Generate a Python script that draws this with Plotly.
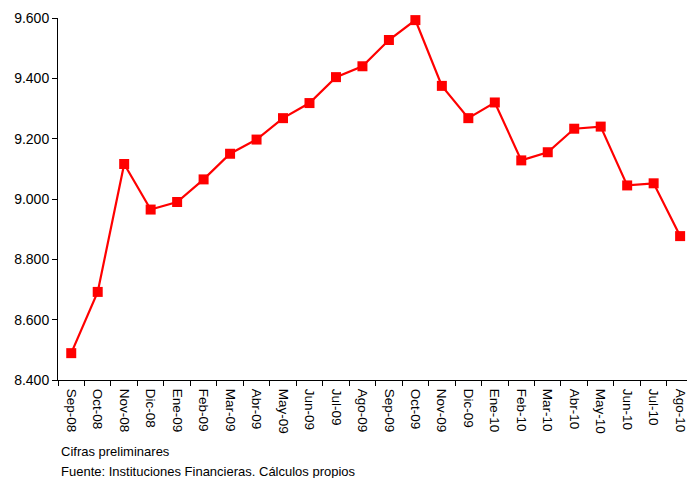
import plotly.graph_objects as go

months = ["Sep-08", "Oct-08", "Nov-08", "Dic-08", "Ene-09", "Feb-09", "Mar-09", "Abr-09",
          "May-09", "Jun-09", "Jul-09", "Ago-09", "Sep-09", "Oct-09", "Nov-09", "Dic-09",
          "Ene-10", "Feb-10", "Mar-10", "Abr-10", "May-10", "Jun-10", "Jul-10", "Ago-10"]
values = [8489, 8692, 9116, 8965, 8990, 9065, 9150, 9197,
          9268, 9318, 9404, 9440, 9527, 9593, 9375, 9268,
          9320, 9128, 9155, 9233, 9240, 9045, 9052, 8877]
y_ticks = [8400, 8600, 8800, 9000, 9200, 9400, 9600]

FONT = "Liberation Sans, Arial, sans-serif"
XRANGE = [-0.5, 23.26]

fig = go.Figure()
fig.add_trace(go.Scatter(
    x=list(range(len(months))), y=values, mode="lines+markers",
    line=dict(color="#FF0000", width=2.2),
    marker=dict(symbol="square", size=10, color="#FF0000"),
    cliponaxis=False, showlegend=False,
))
# invisible helper trace carrying the category-boundary tick marks
fig.add_trace(go.Scatter(x=[0], y=[8400], mode="markers", marker=dict(opacity=0),
                         showlegend=False, hoverinfo="skip", xaxis="x2"))

fig.update_layout(
    width=687, height=478,
    margin=dict(l=58, r=0, t=18, b=98),
    paper_bgcolor="white", plot_bgcolor="white",
    separators=",.",
    font=dict(family=FONT, color="black"),
    xaxis=dict(
        range=XRANGE, automargin=False,
        tickmode="array",
        tickvals=list(range(len(months))),
        ticktext=months,
        tickangle=90,
        tickfont=dict(size=13.5, family=FONT),
        ticklabeloverflow="allow",
        showgrid=False, zeroline=False,
        showline=True, linecolor="black", linewidth=1,
        ticks="outside", ticklen=5, tickcolor="rgba(0,0,0,0)",
    ),
    xaxis2=dict(
        overlaying="x", side="bottom", automargin=False,
        tickmode="array", tickvals=[i + 0.5 for i in range(-1, len(months))],
        ticks="outside", ticklen=5, tickcolor="black",
        showticklabels=False, showgrid=False, zeroline=False, showline=False,
        range=XRANGE,
    ),
    yaxis=dict(
        range=[8400, 9600], automargin=False,
        tickvals=y_ticks,
        tickformat=",.0f",
        tickfont=dict(size=14, family=FONT),
        showgrid=False, zeroline=False,
        showline=True, linecolor="black", linewidth=1,
        ticks="outside", ticklen=5, tickcolor="black",
    ),
)

fig.add_annotation(text="Cifras preliminares", xref="paper", yref="paper",
                   x=0, y=0, xshift=1, yshift=-71, xanchor="left", yanchor="middle",
                   showarrow=False, font=dict(size=13, family=FONT, color="black"))
fig.add_annotation(text="Fuente: Instituciones Financieras. Cálculos propios", xref="paper", yref="paper",
                   x=0, y=0, xshift=1, yshift=-91, xanchor="left", yanchor="middle",
                   showarrow=False, font=dict(size=13, family=FONT, color="black"))

fig.write_html("out.html", config={"displayModeBar": False},
               post_script="document.body.style.margin='0px';")
